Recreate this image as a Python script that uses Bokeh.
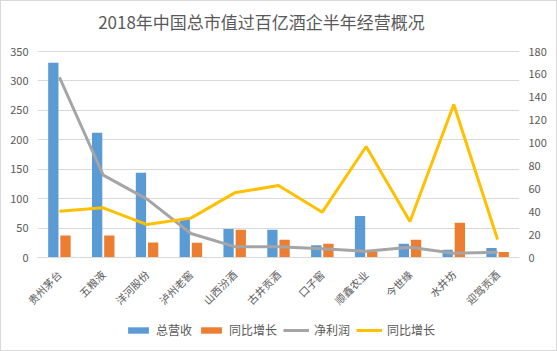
import math
from bokeh.plotting import figure
from bokeh.layouts import column
from bokeh.models import (FactorRange, Range1d, LinearAxis, Legend, LegendItem,
                          ColumnDataSource, FixedTicker, Label)
from bokeh.transform import dodge
from bokeh.embed import file_html
from bokeh.resources import INLINE

companies = ["贵州茅台", "五粮液", "洋河股份", "泸州老窖", "山西汾酒", "古井贡酒",
             "口子窖", "顺鑫农业", "今世缘", "水井坊", "迎驾贡酒"]
revenue = [331, 212, 144, 66, 48.5, 47, 21, 70.5, 23.5, 13, 16]
revenue_growth = [37.5, 37.5, 25.5, 25, 47, 30, 23.5, 10, 30, 59, 9.5]
net_profit = [157.5, 72, 51, 21, 9.5, 9.5, 7.6, 5.5, 9, 3.8, 4.6]
profit_growth = [40.4, 43.4, 28.8, 34.4, 56.5, 62.9, 39.6, 97, 31.5, 133.7, 15.7]

left_ticks = [0, 50, 100, 150, 200, 250, 300, 350]
right_ticks = [0, 20, 40, 60, 80, 100, 120, 140, 160, 180]
left_max, right_max = 350, 180
title_text = "2018年中国总市值过百亿酒企半年经营概况"
series_names = ["总营收", "同比增长", "净利润", "同比增长"]

FONT = "Noto Sans CJK SC"
TXT = "#595959"
GRID = "#D9D9D9"
COLORS = ["#5B9BD5", "#ED7D31", "#A5A5A5", "#FFC000"]

# layout constants (pixels, inside a 1px outer border)
W, H_MAIN, H_LEG = 555, 314, 35
PLOT_TOP, PLOT_BOTTOM = 50, 256          # where the 350 / 0 gridlines sit
frame_h = PLOT_BOTTOM                    # frame runs from canvas top to the 0 line
stretch = frame_h / (PLOT_BOTTOM - PLOT_TOP)

src = ColumnDataSource(dict(x=companies, rev=revenue, revg=revenue_growth,
                            np_=net_profit, npg=profit_growth))

p = figure(width=W, height=H_MAIN, x_range=FactorRange(*companies, range_padding=0),
           y_range=Range1d(0, left_max * stretch), output_backend="svg",
           toolbar_location=None, min_border_left=36, min_border_right=37,
           min_border_top=0, min_border_bottom=H_MAIN - PLOT_BOTTOM)
p.extra_y_ranges = {"y2": Range1d(0, right_max * stretch)}
p.outline_line_color = None
p.background_fill_color = "white"
p.border_fill_color = "white"

# axes
p.yaxis.ticker = FixedTicker(ticks=left_ticks)
ax2 = LinearAxis(y_range_name="y2", ticker=FixedTicker(ticks=right_ticks))
p.add_layout(ax2, "right")
for ax in (p.yaxis[0], ax2):
    ax.axis_line_color = None
    ax.major_tick_line_color = None
    ax.minor_tick_line_color = None
    ax.major_tick_out = 0
    ax.major_label_standoff = 9
    ax.major_label_text_font = FONT
    ax.major_label_text_font_size = "11px"
    ax.major_label_text_color = TXT

xa = p.xaxis[0]
xa.axis_line_color = GRID
xa.axis_line_width = 1
xa.major_tick_line_color = None
xa.major_tick_out = 0
xa.major_label_standoff = 15
xa.major_label_orientation = math.pi / 4
xa.major_label_text_font = FONT
xa.major_label_text_font_size = "10.5px"
xa.major_label_text_color = TXT

p.xgrid.grid_line_color = None
p.ygrid.grid_line_color = GRID
p.ygrid.ticker = FixedTicker(ticks=left_ticks)

# bars
r1 = p.vbar(x=dodge("x", -0.139, range=p.x_range), top="rev", width=0.235,
            source=src, fill_color=COLORS[0], line_color=None)
r2 = p.vbar(x=dodge("x", 0.139, range=p.x_range), top="revg", width=0.235,
            source=src, fill_color=COLORS[1], line_color=None)
# lines on secondary axis
r3 = p.line(x="x", y="np_", source=src, y_range_name="y2", line_color=COLORS[2],
            line_width=3)
r4 = p.line(x="x", y="npg", source=src, y_range_name="y2", line_color=COLORS[3],
            line_width=3)

title = Label(x=224, y=frame_h - 20, x_units="screen", y_units="screen",
              text=title_text, text_align="center", text_baseline="middle",
              text_font=FONT, text_font_size="17px", text_color=TXT)
p.add_layout(title)

# legend strip below the chart (same series; hidden renderers, keys drawn normally)
lg = figure(width=W, height=H_LEG, x_range=FactorRange(*companies),
            y_range=Range1d(0, left_max), output_backend="svg", toolbar_location=None,
            x_axis_type=None, y_axis_type=None, min_border=0)
lg.outline_line_color = None
lg.xgrid.visible = False
lg.ygrid.visible = False
lg.background_fill_color = "white"
lg.border_fill_color = "white"
k1 = lg.vbar(x="x", top="rev", width=0.2, source=src, fill_color=COLORS[0],
             line_color=None, visible=False)
k2 = lg.vbar(x="x", top="revg", width=0.2, source=src, fill_color=COLORS[1],
             line_color=None, visible=False)
k3 = lg.line(x="x", y="np_", source=src, line_color=COLORS[2], line_width=3,
             visible=False)
k4 = lg.line(x="x", y="npg", source=src, line_color=COLORS[3], line_width=3,
             visible=False)
legend = Legend(items=[LegendItem(label=series_names[0], renderers=[k1]),
                       LegendItem(label=series_names[1], renderers=[k2]),
                       LegendItem(label=series_names[2], renderers=[k3]),
                       LegendItem(label=series_names[3], renderers=[k4])],
                orientation="horizontal", location=(88, 12),
                glyph_width=26, glyph_height=8, label_height=14,
                label_standoff=5, spacing=6, padding=0, margin=0,
                label_text_font=FONT, label_text_font_size="12px",
                label_text_color=TXT, border_line_alpha=0,
                background_fill_alpha=0, inactive_fill_alpha=0,
                click_policy="none")
lg.add_layout(legend, "center")

layout = column(p, lg, spacing=0,
                styles={"border": "1px solid #D9D9D9", "background": "white"})
open("out.html", "w").write(file_html(layout, INLINE))
